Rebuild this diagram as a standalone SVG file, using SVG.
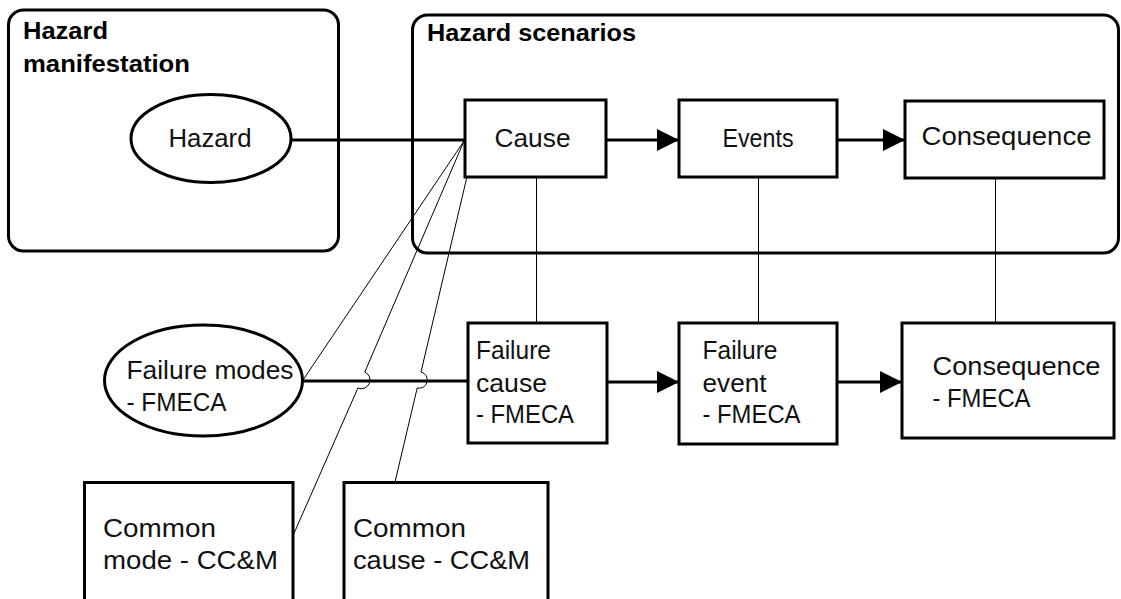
<svg xmlns="http://www.w3.org/2000/svg" width="1121" height="599" viewBox="0 0 1121 599">
<style>
.grp{fill:none;stroke:#000;stroke-width:3}
.box{fill:#fff;stroke:#000;stroke-width:3}
.thick{fill:none;stroke:#000;stroke-width:3}
.thin{fill:none;stroke:#000;stroke-width:1}
.t{font-family:"Liberation Sans",Arial,sans-serif;font-size:26px;fill:#111}
.b{font-family:"Liberation Sans",Arial,sans-serif;font-size:23px;font-weight:bold;fill:#000}
</style>
<defs>
<marker id="arr" markerUnits="userSpaceOnUse" markerWidth="24" markerHeight="24" refX="22" refY="11" orient="auto">
<path d="M0,0 L22,11 L0,22 Z" fill="#000"/>
</marker>
</defs>
<g id="hazard-manifestation">
<rect class="grp" x="8.5" y="10" width="330" height="241" rx="15"/>
<text class="b" x="23" y="39" textLength="85" lengthAdjust="spacingAndGlyphs">Hazard</text>
<text class="b" x="23" y="72" textLength="167" lengthAdjust="spacingAndGlyphs">manifestation</text>
</g>
<g id="hazard-scenarios">
<rect class="grp" x="412.5" y="15" width="706" height="238" rx="15"/>
<text class="b" x="427" y="41" textLength="209" lengthAdjust="spacingAndGlyphs">Hazard scenarios</text>
</g>
<g id="connectors">
<line class="thick" x1="291" y1="140" x2="465" y2="140"/>
<line class="thick" x1="606" y1="140" x2="679" y2="140" marker-end="url(#arr)"/>
<line class="thick" x1="837" y1="140" x2="905" y2="140" marker-end="url(#arr)"/>
<line class="thick" x1="303" y1="381" x2="468" y2="381"/>
<line class="thick" x1="607" y1="382" x2="679" y2="382" marker-end="url(#arr)"/>
<line class="thick" x1="837" y1="382" x2="902" y2="382" marker-end="url(#arr)"/>
<line class="thin" x1="536.5" y1="177" x2="536.5" y2="323"/>
<line class="thin" x1="758.5" y1="177" x2="758.5" y2="323"/>
<line class="thin" x1="995.5" y1="178" x2="995.5" y2="323"/>
<line class="thin" x1="464" y1="141" x2="303" y2="380"/>
<path class="thin" d="M464,141 L364.8,372 A8.7,8.7 0 0 1 357.9,388 L293.3,535"/>
<path class="thin" d="M466.7,178 L421,372 A8.2,8.2 0 0 1 417.2,388 L395,482"/>
</g>
<g id="hazard">
<ellipse class="box" cx="211" cy="138.5" rx="80" ry="44"/>
<text class="t" x="168.5" y="147" textLength="83" lengthAdjust="spacingAndGlyphs">Hazard</text>
</g>
<g id="cause">
<rect class="box" x="465" y="100" width="141" height="77"/>
<text class="t" x="494.5" y="147" textLength="76" lengthAdjust="spacingAndGlyphs">Cause</text>
</g>
<g id="events">
<rect class="box" x="679" y="100" width="158" height="77"/>
<text class="t" x="722.5" y="147" textLength="71" lengthAdjust="spacingAndGlyphs">Events</text>
</g>
<g id="consequence">
<rect class="box" x="905" y="101" width="199" height="77"/>
<text class="t" x="921.5" y="145" textLength="170" lengthAdjust="spacingAndGlyphs">Consequence</text>
</g>
<g id="failure-modes">
<ellipse class="box" cx="203.5" cy="380.5" rx="99" ry="55.5"/>
<text class="t" x="126.5" y="379" textLength="167" lengthAdjust="spacingAndGlyphs">Failure modes</text>
<text class="t" x="126.5" y="411" textLength="100" lengthAdjust="spacingAndGlyphs">- FMECA</text>
</g>
<g id="failure-cause">
<rect class="box" x="468" y="323" width="139" height="120"/>
<text class="t" x="476" y="359" textLength="75" lengthAdjust="spacingAndGlyphs">Failure</text>
<text class="t" x="476" y="391.5" textLength="71" lengthAdjust="spacingAndGlyphs">cause</text>
<text class="t" x="476" y="423" textLength="98" lengthAdjust="spacingAndGlyphs">- FMECA</text>
</g>
<g id="failure-event">
<rect class="box" x="679" y="323" width="158" height="121"/>
<text class="t" x="702.5" y="359" textLength="75" lengthAdjust="spacingAndGlyphs">Failure</text>
<text class="t" x="702.5" y="391.5" textLength="64" lengthAdjust="spacingAndGlyphs">event</text>
<text class="t" x="702.5" y="423" textLength="98" lengthAdjust="spacingAndGlyphs">- FMECA</text>
</g>
<g id="consequence-fmeca">
<rect class="box" x="902" y="323" width="212" height="115"/>
<text class="t" x="932.5" y="375" textLength="168" lengthAdjust="spacingAndGlyphs">Consequence</text>
<text class="t" x="932.5" y="407" textLength="98" lengthAdjust="spacingAndGlyphs">- FMECA</text>
</g>
<g id="common-mode">
<rect class="box" x="84.5" y="482.5" width="208.5" height="130"/>
<text class="t" x="103" y="537" textLength="113" lengthAdjust="spacingAndGlyphs">Common</text>
<text class="t" x="103" y="569" textLength="175" lengthAdjust="spacingAndGlyphs">mode - CC&amp;M</text>
</g>
<g id="common-cause">
<rect class="box" x="344" y="482.5" width="204" height="130"/>
<text class="t" x="353" y="537" textLength="113" lengthAdjust="spacingAndGlyphs">Common</text>
<text class="t" x="353" y="569" textLength="177" lengthAdjust="spacingAndGlyphs">cause - CC&amp;M</text>
</g>
</svg>
